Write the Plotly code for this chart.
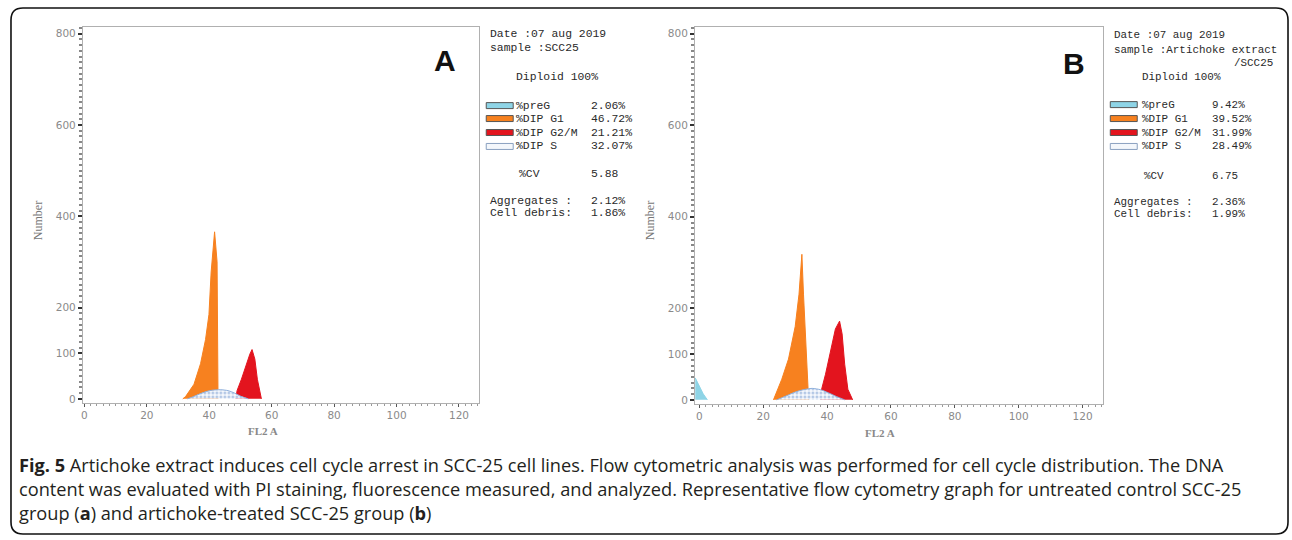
import plotly.graph_objects as go

W, H = 1292, 540

# ---------------- data ----------------
# Panel A : untreated SCC25
a_g1_x = [31.5, 32.4, 35.1, 37.2, 38.8, 39.9, 40.6, 41.7, 42.5, 42.8]
a_g1_y = [0, 5, 32, 77, 130, 185, 278, 366, 300, 0]
a_g2_x = [48.5, 48.9, 50.3, 51.9, 53.0, 53.7, 54.6, 55.4, 56.7]
a_g2_y = [0, 18, 43, 77, 98, 108, 87, 43, 0]
a_s_x = [33.0, 35.0, 37.0, 39.0, 41.0, 43.5, 46.0, 48.0, 50.0, 52.5]
a_s_y = [0, 5, 11, 16, 19, 20, 18, 13, 6, 0]

# Panel B : artichoke extract / SCC25
b_pre_x = [-1.3, 0.0, 1.2, 2.5]
b_pre_y = [48, 29, 13, 0]
b_g1_x = [23.2, 25.8, 27.9, 30.0, 31.2, 32.1, 32.6, 33.3, 34.0, 34.2]
b_g1_y = [0, 45, 89, 160, 231, 318, 231, 134, 23, 0]
b_g2_x = [38.0, 38.2, 39.5, 41.1, 42.6, 43.9, 44.7, 45.5, 46.5, 48.0]
b_g2_y = [0, 21, 56, 104, 155, 172, 144, 78, 23, 0]
b_s_x = [24.2, 26.0, 28.0, 30.0, 32.5, 35.3, 38.0, 40.5, 43.0, 45.5]
b_s_y = [0, 5, 11, 17, 22, 25, 22, 15, 7, 0]

y_ticks = [0, 100, 200, 400, 600, 800]
x_ticks = [0, 20, 40, 60, 80, 100, 120]

legend_names = ["%preG", "%DIP G1", "%DIP G2/M", "%DIP S"]
a_legend_vals = ["2.06%", "46.72%", "21.21%", "32.07%"]
b_legend_vals = ["9.42%", "39.52%", "31.99%", "28.49%"]
a_cv, b_cv = "5.88", "6.75"
a_aggr, b_aggr = "2.12%", "2.36%"
a_debris, b_debris = "1.86%", "1.99%"

C_PRE = "#8ED4E6"
C_G1 = "#F7811F"
C_G2 = "#E3141E"
C_S = "#8FB0DC"


def px(x):
    return x / W


def py(y):
    return 1 - y / H


fig = go.Figure()


def add_area(x, y, color, xa, ya, pattern=False):
    if pattern:
        fig.add_trace(go.Scatter(
            x=x, y=y, mode="lines", fill="tozeroy", xaxis=xa, yaxis=ya,
            line=dict(color=C_S, width=1, shape="spline", smoothing=0.8),
            fillcolor="white",
            fillpattern=dict(shape=".", fgcolor="#6F96CE", bgcolor="#f7f9fd",
                             size=4, solidity=0.45),
            showlegend=False, hoverinfo="skip"))
    else:
        fig.add_trace(go.Scatter(
            x=x, y=y, mode="lines", fill="tozeroy", xaxis=xa, yaxis=ya,
            line=dict(color=color, width=1), fillcolor=color,
            showlegend=False, hoverinfo="skip"))


add_area(a_g1_x, a_g1_y, C_G1, "x", "y")
add_area(a_g2_x, a_g2_y, C_G2, "x", "y")
add_area(a_s_x, a_s_y, C_S, "x", "y", pattern=True)

add_area(b_pre_x, b_pre_y, C_PRE, "x2", "y2")
add_area(b_g1_x, b_g1_y, C_G1, "x2", "y2")
add_area(b_g2_x, b_g2_y, C_G2, "x2", "y2")
add_area(b_s_x, b_s_y, C_S, "x2", "y2", pattern=True)

tickfont = dict(family="DejaVu Sans", size=10.5, color="#8a8a8a")

common_x = dict(
    tickvals=x_ticks, ticks="outside", ticklen=3, tickcolor="#555",
    tickfont=tickfont, showgrid=False, zeroline=False,
    showline=True, linecolor="#b0b0b0", linewidth=1, mirror=True,
    minor=dict(dtick=2, ticks="outside", ticklen=2, tickcolor="#999"),
)
common_y = dict(
    tickvals=y_ticks, ticks="outside", ticklen=4, tickwidth=2, tickcolor="#333",
    tickfont=tickfont, showgrid=False, zeroline=False,
    showline=True, linecolor="#b0b0b0", linewidth=1, mirror=True,
    range=[-8, 815],
    minor=dict(dtick=12.5, ticks="outside", ticklen=3, tickcolor="#888"),
)

fig.update_layout(
    width=W, height=H, margin=dict(l=0, r=0, t=0, b=0),
    paper_bgcolor="white", plot_bgcolor="white",
    xaxis=dict(domain=[px(81), px(478)], range=[-0.5, 126.5], anchor="y", **common_x),
    yaxis=dict(domain=[py(404), py(27)], anchor="x", **common_y),
    xaxis2=dict(domain=[px(694), px(1103)], range=[-1.4, 126.5], anchor="y2", **common_x),
    yaxis2=dict(domain=[py(405), py(27)], anchor="x2", **common_y),
)

ann = []


def text(x, y, s, size=11, family="Liberation Mono", color="#2a2a2a", xanchor="left",
         angle=0):
    ann.append(dict(x=px(x), y=py(y), xref="paper", yref="paper", text=s,
                    showarrow=False, xanchor=xanchor, yanchor="middle",
                    textangle=angle,
                    font=dict(family=family, size=size, color=color)))


# axis titles
text(36, 221, "Number", size=12, family="Liberation Serif", color="#777",
     xanchor="center", angle=-90)
text(649, 221, "Number", size=12, family="Liberation Serif", color="#777",
     xanchor="center", angle=-90)
text(261, 433, "<b>FL2 A</b>", size=11, family="Liberation Serif", color="#888",
     xanchor="center")
text(879, 435, "<b>FL2 A</b>", size=11, family="Liberation Serif", color="#888",
     xanchor="center")

# panel letters
text(444, 61, "<b>A</b>", size=30, family="Liberation Sans", color="#111",
     xanchor="center")
text(1074, 64, "<b>B</b>", size=30, family="Liberation Sans", color="#111",
     xanchor="center")

# side info panels
MS = 11.4
MSB = 10.9
# A
text(487, 34, "Date :07 aug 2019", MS)
text(487, 48, "sample :SCC25", MS)
text(513, 77, "Diploid 100%", MS)
a_rows = [106, 119, 133, 147]
for name, val, yy in zip(legend_names, a_legend_vals, a_rows):
    text(513, yy, name, MS)
    text(588, yy, val, MS)
text(516, 175, "%CV", MS)
text(588, 175, a_cv, MS)
text(487, 202, "Aggregates :", MS)
text(588, 202, a_aggr, MS)
text(487, 214, "Cell debris:", MS)
text(588, 214, a_debris, MS)
# B
text(1112, 35, "Date :07 aug 2019", MSB)
text(1112, 50, "sample :Artichoke extract", MSB)
text(1275, 63, "/SCC25", MSB, xanchor="right")
text(1140, 77, "Diploid 100%", MSB)
b_rows = [105, 119, 133, 147]
for name, val, yy in zip(legend_names, b_legend_vals, b_rows):
    text(1140, yy, name, MSB)
    text(1210, yy, val, MSB)
text(1142, 177, "%CV", MSB)
text(1210, 177, b_cv, MSB)
text(1112, 203, "Aggregates :", MSB)
text(1210, 203, b_aggr, MSB)
text(1112, 215, "Cell debris:", MSB)
text(1210, 215, b_debris, MSB)

# caption
CAP = dict(size=18.2, family="Open Sans", color="#231f20")
text(15, 467, "<b>Fig. 5</b> Artichoke extract induces cell cycle arrest in SCC-25 cell lines. "
     "Flow cytometric analysis was performed for cell cycle distribution. The DNA", **CAP)
text(15, 491, "content was evaluated with PI staining, fluorescence measured, and analyzed. "
     "Representative flow cytometry graph for untreated control SCC-25", **CAP)
text(15, 515, "group (<b>a</b>) and artichoke-treated SCC-25 group (<b>b</b>)", **CAP)

fig.update_layout(annotations=ann)

# legend swatches and outer rounded frame
shapes = []
swatch_cols = [C_PRE, C_G1, C_G2, "#f4f7fb"]


def swatch(x0, yc, col, hatch=False):
    shapes.append(dict(type="rect", xref="paper", yref="paper",
                       x0=px(x0), x1=px(x0 + 27), y0=py(yc + 3), y1=py(yc - 3),
                       fillcolor=col,
                       line=dict(color="#8aa0c0" if hatch else "#555", width=1)))


for col, yy, i in zip(swatch_cols, a_rows, range(4)):
    swatch(485, yy, col, hatch=(i == 3))
for col, yy, i in zip(swatch_cols, b_rows, range(4)):
    swatch(1110, yy, col, hatch=(i == 3))

x0, x1, y0, y1, r = 9, 1288, 8, 536, 12
path = (f"M {px(x0 + r)},{py(y0)} L {px(x1 - r)},{py(y0)} "
        f"Q {px(x1)},{py(y0)} {px(x1)},{py(y0 + r)} L {px(x1)},{py(y1 - r)} "
        f"Q {px(x1)},{py(y1)} {px(x1 - r)},{py(y1)} L {px(x0 + r)},{py(y1)} "
        f"Q {px(x0)},{py(y1)} {px(x0)},{py(y1 - r)} L {px(x0)},{py(y0 + r)} "
        f"Q {px(x0)},{py(y0)} {px(x0 + r)},{py(y0)} Z")
shapes.append(dict(type="path", xref="paper", yref="paper", path=path,
                   line=dict(color="#111", width=1.6)))
fig.update_layout(shapes=shapes)

fig.write_html("out.html", config={"displayModeBar": False},
               post_script="document.body.style.margin='0';document.body.style.padding='0';")
